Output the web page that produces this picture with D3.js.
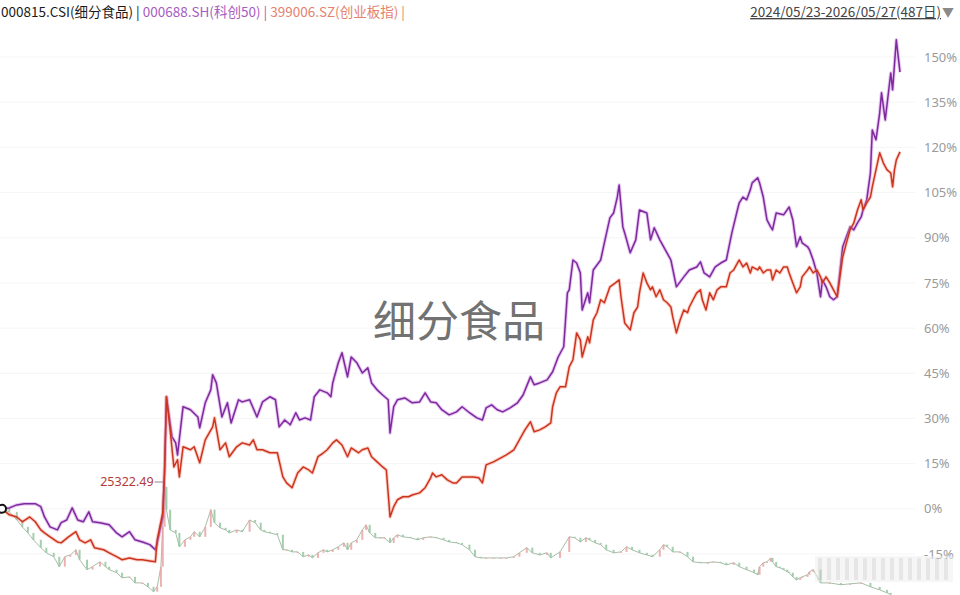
<!DOCTYPE html>
<html>
<head>
<meta charset="utf-8">
<script src="https://cdn.jsdelivr.net/npm/d3@7"></script>
<style>
  body { margin: 0; background: #fff; }
  svg { display: block; font-family: "Noto Sans CJK SC", "Noto Sans", sans-serif; }
</style>
</head>
<body>
<div id="chart"></div>
<script>
// ------ Data (trading day index, % change) ------ //
const totalDays = 487;

// 000688.SH (科创50)
const kcDays = [0,4,8,12,18,21,23,26,30,32,35,38,41,44,47,49,53,58,62,65,69,72,76,80,83,84,87,88,89,92,94,95,98,102,106,107,110,113,114,116,119,122,124,128,130,134,138,141,145,148,150,153,156,159,161,164,167,169,172,176,178,179,182,184,187,189,192,195,198,200,203,206,209,210,212,214,218,222,226,229,232,235,238,242,246,249,253,257,260,262,265,268,271,275,279,282,286,288,291,295,298,301,304,306,307,309,311,313,314,317,318,320,324,326,329,331,333,334,336,337,340,343,345,349,351,353,356,359,362,365,369,372,376,378,380,383,386,389,392,395,398,399,401,403,405,406,409,410,412,414,416,417,419,423,426,428,430,432,433,436,437,439,441,443,444,446,448,450,452,454,455,457,459,461,463,465,466,468,470,471,473,475,476,478,481,482,484,486];
const kcPct = [0,0.3,1.3,1.7,1.7,0.7,-2.7,-6.0,-7.0,-4.6,-3.7,0.3,-3.7,-4.3,-1.0,-4.3,-4.6,-5.3,-8.0,-9.3,-7.6,-10.3,-11.0,-11.9,-13.6,-11.3,-2.7,13.9,37.2,23.9,21.9,17.9,33.9,32.9,30.5,26.9,35.2,39.5,44.5,41.8,30.5,35.2,28.5,36.2,35.5,36.2,30.5,35.5,37.2,36.2,27.2,29.5,27.9,31.9,29.5,30.2,29.5,37.2,39.5,38.5,37.2,41.8,48.5,51.8,43.8,50.4,48.5,45.1,46.8,41.8,39.5,37.8,36.2,25.2,33.9,36.2,36.8,35.2,35.5,38.5,35.5,35.2,32.9,31.2,32.2,33.9,31.9,30.2,29.5,33.5,34.5,32.9,32.2,33.5,35.2,37.8,43.8,41.2,41.8,42.8,45.5,50.4,53.8,71.7,72.7,82.6,81.6,78.3,66.0,71.7,68.4,79.3,82.6,88.3,96.6,98.2,103.5,107.5,93.6,91.6,85.0,89.3,99.2,98.2,89.3,93.3,89.3,86.0,82.6,73.7,77.0,79.3,80.3,82.0,78.3,77.0,80.3,81.6,82.6,91.6,99.2,101.6,103.5,102.6,105.9,108.2,109.9,108.2,103.5,95.9,93.6,92.6,98.2,97.6,100.2,95.9,87.0,90.3,88.3,87.0,86.0,82.6,78.3,70.4,76.0,73.7,70.4,69.4,70.4,81.6,87.0,90.3,93.6,92.6,94.9,96.9,99.2,102.6,111.5,125.8,122.5,131.4,138.1,129.1,144.7,139.1,155.7,145.0];

// 399006.SZ (创业板指)
const cybDays = [0,4,8,11,15,18,21,23,26,30,32,36,40,42,45,48,50,55,58,62,65,69,73,76,80,83,84,87,88,89,91,93,95,96,98,102,104,107,110,114,115,118,121,123,127,130,134,136,138,141,145,149,152,154,157,160,163,166,168,171,174,176,179,181,184,187,189,193,195,198,200,203,206,208,210,212,214,217,220,222,226,229,232,233,235,238,241,244,246,249,252,255,258,260,262,266,270,273,277,280,283,286,288,291,294,297,298,300,302,305,307,309,311,313,314,317,318,320,322,324,326,329,332,334,335,337,340,342,344,345,347,349,351,352,354,356,358,360,362,363,365,367,369,371,372,374,376,378,379,381,383,385,387,389,392,394,396,398,399,401,403,405,406,409,410,412,414,416,417,419,421,423,425,426,428,430,432,433,436,437,439,441,443,444,446,448,450,452,454,455,457,459,461,463,465,466,468,470,471,473,475,477,479,481,482,483,484,486];
const cybPct = [0,-2.0,-2.7,-4.3,-2.7,-4.3,-7.0,-8.0,-9.3,-11.0,-11.3,-9.3,-7.6,-10.3,-11.3,-10.3,-12.9,-13.6,-14.6,-15.9,-16.9,-16.3,-16.9,-16.9,-17.3,-17.6,-10.3,-1.3,11.9,37.2,26.2,13.9,16.3,10.6,20.6,19.6,20.6,15.3,22.9,27.2,30.2,19.6,21.9,17.3,20.6,21.9,21.2,22.9,19.6,19.6,18.6,18.6,10.6,8.6,7.0,11.9,13.9,12.9,11.9,17.3,18.6,19.6,21.9,22.9,21.2,17.3,20.2,18.6,19.6,20.2,17.3,15.6,13.9,12.9,-2.7,0.7,3.0,4.0,4.0,4.6,5.3,7.0,10.3,11.9,10.6,11.3,9.6,8.6,8.6,10.6,10.6,10.6,10.3,8.6,14.6,15.6,16.9,17.9,19.6,22.9,26.2,28.9,25.6,26.2,27.2,28.5,33.9,38.5,40.5,40.5,47.1,49.5,58.4,56.1,50.4,57.1,55.1,62.7,65.1,69.4,68.4,73.7,75.0,76.0,70.4,61.7,59.4,65.1,67.0,71.7,78.3,75.0,72.7,73.7,70.4,72.7,69.4,68.4,67.0,63.7,58.4,62.7,66.0,65.1,67.0,69.4,71.7,72.7,69.4,66.0,71.7,69.4,72.7,73.7,73.7,78.3,79.3,81.6,82.6,80.3,81.6,78.3,80.3,79.3,80.3,78.3,79.3,79.3,76.0,79.3,78.3,80.3,80.3,78.3,75.0,71.7,73.7,77.0,79.3,80.3,78.3,79.3,77.0,75.0,77.0,75.0,72.7,70.4,79.3,83.6,88.3,92.6,94.9,99.2,102.6,99.2,101.6,103.5,106.9,112.5,118.2,114.8,112.5,111.5,106.9,112.5,115.8,118.5];

// 000815.CSI (细分食品) closes, drawn as candles
const csiDays = [0,4,8,11,14,17,21,24,28,31,34,37,40,42,46,49,53,56,58,62,65,69,72,76,79,82,84,86,87,88,89,91,94,96,99,102,104,107,110,113,115,118,121,123,127,130,134,137,140,142,145,149,152,154,157,160,163,166,168,171,174,176,179,182,185,187,189,192,195,197,199,202,205,207,210,212,214,217,221,225,228,232,235,239,242,246,249,253,256,259,262,266,270,273,277,280,284,287,291,295,297,302,307,310,313,316,318,321,324,327,331,335,338,341,345,349,352,356,358,360,363,367,371,374,378,382,385,389,392,396,399,403,407,409,410,412,414,416,417,419,421,423,425,426,428,430,432,433,436,437,439,443,448,454,459,465,470,475,479,481];
const csiPct = [0,-1.0,-3.7,-6.0,-8.0,-10.3,-12.9,-14.6,-15.9,-19.2,-15.9,-15.3,-13.6,-16.9,-20.2,-19.2,-17.6,-19.2,-20.2,-21.2,-22.9,-22.6,-24.6,-24.6,-25.9,-27.5,-25.9,-19.2,-6.0,7.3,-0.3,-7.0,-8.0,-12.6,-10.3,-9.3,-7.6,-9.3,-6.0,-0.3,-4.6,-6.3,-7.0,-8.0,-7.0,-7.6,-3.7,-4.6,-7.0,-7.6,-8.0,-8.6,-13.6,-13.6,-14.3,-14.3,-15.9,-15.3,-16.3,-14.6,-13.6,-14.3,-13.6,-12.6,-11.3,-13.6,-11.3,-10.3,-7.0,-5.3,-8.0,-9.6,-9.6,-9.6,-11.3,-9.6,-8.6,-9.3,-9.6,-10.3,-9.6,-9.3,-9.6,-10.3,-11.0,-11.3,-11.9,-13.6,-15.9,-16.3,-16.3,-16.3,-16.3,-16.3,-15.9,-14.6,-12.9,-14.6,-15.3,-14.6,-16.3,-14.3,-9.3,-9.6,-11.0,-9.6,-10.3,-11.3,-11.9,-13.6,-14.6,-14.3,-12.6,-13.6,-14.6,-15.3,-15.9,-13.6,-11.9,-12.6,-14.3,-14.3,-15.9,-17.6,-17.9,-17.9,-17.6,-17.9,-18.6,-17.9,-19.2,-20.2,-21.2,-21.9,-19.2,-17.9,-17.6,-16.3,-17.6,-19.2,-19.6,-20.2,-20.9,-21.2,-22.6,-23.6,-22.9,-22.6,-21.9,-20.9,-20.2,-24.6,-24.6,-25.2,-24.9,-24.6,-25.9,-26.9,-27.9,-28.5];

// marked high of the index
const peakDay = 88;
const peakPct = 8.9;
const peakLabel = "25322.49";

// y-axis ticks (%)
const yTicks = [150,135,120,105,90,75,60,45,30,15,0,-15];

// header texts
const headerParts = [
  {text: "000815.CSI(细分食品) | ", color: "#1a1a1a"},
  {text: "000688.SH(科创50) | ", color: "#a65cc4"},
  {text: "399006.SZ(创业板指) |", color: "#e5826f"}
];
const rangeText = "2024/05/23-2026/05/27(487日)";
const watermark = "细分食品";

const width = 960;
const height = 595;

const svg = d3.select("#chart")
  .append("svg")
  .attr("width", width)
  .attr("height", height)
  .attr("viewBox", [0, 0, width, height]);

// ------ Scales ------ //
const xScale = d3.scaleLinear()
  .domain([0, totalDays - 1])
  .range([2, 900]);
const yScale = d3.scaleLinear()
  .domain([-15, 150])
  .range([554, 57]);

// faint grid
svg.append("g")
  .selectAll("line")
  .data(yTicks)
  .join("line")
    .attr("x1", 0)
    .attr("x2", 915)
    .attr("y1", d => yScale(d))
    .attr("y2", d => yScale(d))
    .attr("stroke", "#f5f5f5")
    .attr("stroke-width", 1);

// y labels on the right
const yAxis = d3.axisRight(yScale)
  .tickValues(yTicks)
  .tickSize(0)
  .tickPadding(0)
  .tickFormat(d => d + "%");
const yAxisG = svg.append("g")
  .attr("transform", "translate(924, 0)")
  .call(yAxis);
yAxisG.select(".domain").remove();
yAxisG.selectAll("text")
  .attr("fill", "#9a9a9a")
  .style("font-family", "'Noto Sans', sans-serif")
  .style("font-size", "13px");

// watermark
svg.append("text")
  .text(watermark)
  .attr("x", 459)
  .attr("y", 337)
  .attr("text-anchor", "middle")
  .attr("fill", "#727272")
  .style("font-size", "43px");

// ------ Candles for 000815.CSI ------ //
const csi = csiDays.map((d, i) => ({day: d, pct: csiPct[i]}));
const csiLine = d3.line()
  .x(d => xScale(d.day))
  .y(d => yScale(d.pct));
svg.append("path")
  .attr("d", csiLine(csi))
  .attr("fill", "none")
  .attr("stroke", "#a9bda9")
  .attr("stroke-width", 1);
svg.append("g")
  .selectAll("rect")
  .data(csi.slice(1).map((d, i) => ({day: d.day, open: csi[i].pct, close: d.pct})))
  .join("rect")
    .attr("x", d => xScale(d.day) - 1)
    .attr("width", 2)
    .attr("y", d => yScale(Math.max(d.open, d.close)))
    .attr("height", d => Math.max(1, Math.abs(yScale(d.open) - yScale(d.close))))
    .attr("fill", d => d.close >= d.open ? "#eaa3a3" : "#93c7a0")
    .attr("opacity", 0.85);

// peak wick and label
const peakClose = csiPct[csiDays.indexOf(peakDay)];
svg.append("line")
  .attr("x1", xScale(peakDay))
  .attr("x2", xScale(peakDay))
  .attr("y1", yScale(peakPct))
  .attr("y2", yScale(peakClose))
  .attr("stroke", "#e08f8f")
  .attr("stroke-width", 1);
svg.append("line")
  .attr("x1", xScale(peakDay) - 10)
  .attr("x2", xScale(peakDay))
  .attr("y1", yScale(peakPct))
  .attr("y2", yScale(peakPct))
  .attr("stroke", "#888")
  .attr("stroke-width", 1);
svg.append("text")
  .text(peakLabel)
  .attr("x", xScale(peakDay) - 11)
  .attr("y", yScale(peakPct))
  .attr("dy", "0.35em")
  .attr("text-anchor", "end")
  .attr("fill", "#b23a3a")
  .style("font-family", "'Noto Sans', sans-serif")
  .style("font-size", "12.5px");

// ------ Lines ------ //
const lineGen = d3.line()
  .x(d => xScale(d.day))
  .y(d => yScale(d.pct));

const drawSeries = (days, pcts, halo, core) => {
  const data = days.map((d, i) => ({day: d, pct: pcts[i]}));
  svg.append("path")
    .attr("d", lineGen(data))
    .attr("fill", "none")
    .attr("stroke", halo)
    .attr("stroke-opacity", 0.4)
    .attr("stroke-width", 3.5)
    .attr("stroke-linejoin", "round");
  svg.append("path")
    .attr("d", lineGen(data))
    .attr("fill", "none")
    .attr("stroke", core)
    .attr("stroke-width", 1.5)
    .attr("stroke-linejoin", "round");
};

drawSeries(kcDays, kcPct, "#c070e0", "#7d2a9c");
drawSeries(cybDays, cybPct, "#f58a74", "#cc3420");

// start marker
svg.append("circle")
  .attr("cx", xScale(0))
  .attr("cy", yScale(0))
  .attr("r", 4)
  .attr("fill", "#fff")
  .attr("stroke", "#111")
  .attr("stroke-width", 2);

// blurred patch at bottom right
const patch = svg.append("g").attr("opacity", 0.5);
patch.append("rect")
  .attr("x", 815).attr("y", 556)
  .attr("width", 138).attr("height", 26)
  .attr("fill", "#eeeeee");
patch.selectAll("rect.bar")
  .data(d3.range(818, 950, 9))
  .join("rect")
    .attr("class", "bar")
    .attr("x", d => d)
    .attr("y", 558)
    .attr("width", 4)
    .attr("height", 22)
    .attr("fill", "#cfcfcf");

// ------ Header ------ //
const header = svg.append("text")
  .attr("x", 1)
  .attr("y", 17)
  .style("font-size", "13.5px");
header.selectAll("tspan")
  .data(headerParts)
  .join("tspan")
    .text(d => d.text)
    .attr("fill", d => d.color)
    .attr("xml:space", "preserve")
    .style("white-space", "pre");

svg.append("text")
  .text(rangeText)
  .attr("x", 941)
  .attr("y", 17)
  .attr("text-anchor", "end")
  .attr("fill", "#444")
  .attr("text-decoration", "underline")
  .style("font-size", "13.5px");
svg.append("text")
  .text("▼")
  .attr("x", 942)
  .attr("y", 17)
  .attr("fill", "#8a8a8a")
  .style("font-size", "12px");
</script>
</body>
</html>
